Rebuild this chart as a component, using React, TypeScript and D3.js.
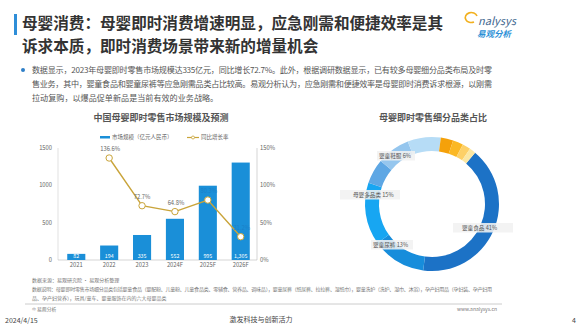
import React from 'react';
import * as d3 from 'd3';

// bar + line chart data
const years = ['2021', '2022', '2023', '2024F', '2025F', '2026F'];
const marketSize = [82, 194, 335, 552, 995, 1305];
const growthRate: (number | null)[] = [null, 136.6, 72.7, 64.8, 80.3, 31.2];
const leftTicks = [0, 500, 1000, 1500];
const rightTicks = [0, 50, 100, 150];

// donut data, clockwise starting from 婴童食品
const categories = ['婴童食品', '婴童尿裤', '母婴多品类', '婴童鞋服', '婴童洗护', '孕产妇用品', '玩具童车', '婴童用品', '营养保健', '其他'];
const shares = [41, 13, 15, 6, 8, 8, 3, 2.5, 2, 1.5];
const sliceColors = ['#1c72c6', '#178ddb', '#17a6f2', '#5ea7e4', '#95c6ee', '#b6dcf6', '#f5a10a', '#fbb824', '#fdd067', '#fbe7a3'];
const labelled = ['婴童食品', '婴童尿裤', '母婴多品类', '婴童鞋服'];

const paragraph = [
  '数据显示，2023年母婴即时零售市场规模达335亿元，同比增长72.7%。此外，根据调研数据显示，已有较多母婴细分品类布局及时零',
  '售业务，其中，婴童食品和婴童尿裤等应急刚需品类占比较高。易观分析认为，应急刚需和便捷效率是母婴即时消费诉求根源，以刚需',
  '拉动复购，以爆品促单新品是当前有效的业务战略。',
];

const FONT = '"Noto Sans CJK SC", "Noto Sans", sans-serif';

// label boxes around the ring (annotation placement)
const labelBoxes: Record<string, { x: number; y: number; w: number; tx: number }> = {
  婴童食品: { x: 453, y: 223, w: 60, tx: 462 },
  婴童尿裤: { x: 371, y: 240, w: 42, tx: 373 },
  母婴多品类: { x: 340, y: 190, w: 60, tx: 353 },
  婴童鞋服: { x: 377, y: 151, w: 38, tx: 379 },
};

const App: React.FC = () => {
  const x = d3.scaleBand<string>().domain(years).range([60, 257]).paddingInner(0.45).paddingOuter(0.22);
  const yL = d3.scaleLinear().domain([0, 1500]).range([260, 148]);
  const yR = d3.scaleLinear().domain([0, 150]).range([260, 148]);
  const cx = (d: string) => (x(d) as number) + x.bandwidth() / 2;

  const linePts = years
    .map((yr, i) => ({ yr, v: growthRate[i] }))
    .filter((d) => d.v !== null) as { yr: string; v: number }[];
  const line = d3
    .line<{ yr: string; v: number }>()
    .x((d) => cx(d.yr))
    .y((d) => yR(d.v));

  const pie = d3
    .pie<number>()
    .sort(null)
    .startAngle((40 * Math.PI) / 180)
    .endAngle((400 * Math.PI) / 180);
  const arcs = pie(shares);
  const arc = d3.arc<d3.PieArcDatum<number>>().innerRadius(53).outerRadius(67);
  const donutC = { x: 432, y: 204 };

  return (
    <svg width={588} height={325} style={{ position: 'absolute', left: 0, top: 0, background: '#fff' }} fontFamily={FONT}>
      {/* header */}
      <rect x={14} y={14} width={3} height={21} fill="#2f8ed8" />
      <text x={22} y={29} fontSize={15.6} fontWeight={700} fill="#333">
        母婴消费：母婴即时消费增速明显，应急刚需和便捷效率是其
      </text>
      <text x={22} y={52} fontSize={15.6} fontWeight={700} fill="#333">
        诉求本质，即时消费场景带来新的增量机会
      </text>
      {/* logo */}
      <path d="M 474 22 A 6 5 0 1 1 477 16" fill="none" stroke="#f2b01e" strokeWidth={1.6} />
      <text x={478} y={25} fontSize={11} fill="#3f6890" fontStyle="italic">nalysys</text>
      <text x={477} y={37} fontSize={8.5} fill="#2b8fd6" fontStyle="italic" fontWeight={700}>易观分析</text>

      {/* paragraph */}
      <circle cx={23} cy={70} r={2} fill="#2f7fc8" />
      {paragraph.map((t, i) => (
        <text
          key={i}
          x={32}
          y={73 + i * 14}
          fontSize={8.1}
          fill="#555"
          textLength={i < 2 ? 460 : undefined}
          lengthAdjust="spacing"
        >
          {t}
        </text>
      ))}

      {/* left chart */}
      <text x={161} y={121} fontSize={9} fontWeight={700} fill="#555" textAnchor="middle">
        中国母婴即时零售市场规模及预测
      </text>
      <rect x={100} y={136} width={10} height={2.5} fill="#1a8fd8" />
      <text x={112} y={139} fontSize={5.5} fill="#666">市场规模（亿元人民币）</text>
      <line x1={187} x2={199} y1={137.5} y2={137.5} stroke="#c9a43a" strokeWidth={1.2} />
      <circle cx={193} cy={137.5} r={1.5} fill="#fff" stroke="#c9a43a" strokeWidth={0.8} />
      <text x={201} y={139} fontSize={5.5} fill="#666">同比增长率</text>

      <line x1={58} x2={58} y1={148} y2={260} stroke="#ccc" strokeWidth={0.6} />
      <line x1={257} x2={257} y1={148} y2={260} stroke="#bbb" strokeWidth={0.6} />
      <line x1={58} x2={257} y1={260} y2={260} stroke="#bbb" strokeWidth={0.6} />
      {leftTicks.map((t) => (
        <text key={t} x={52} y={yL(t) + 2} fontSize={5.8} fill="#666" textAnchor="end">
          {t}
        </text>
      ))}
      {rightTicks.map((t) => (
        <text key={t} x={260} y={yR(t) + 2} fontSize={5.8} fill="#666">
          {t}%
        </text>
      ))}
      {years.map((yr, i) => (
        <g key={yr}>
          <rect x={x(yr)} y={yL(marketSize[i])} width={x.bandwidth()} height={260 - yL(marketSize[i])} fill="#1a8fd8" />
          <text x={cx(yr)} y={257.5} fontSize={5.3} fill="#fff" textAnchor="middle">
            {d3.format(',')(marketSize[i])}
          </text>
          <text x={cx(yr)} y={267} fontSize={5.8} fill="#666" textAnchor="middle">
            {yr}
          </text>
        </g>
      ))}
      <path d={line(linePts) ?? ''} fill="none" stroke="#c9a43a" strokeWidth={1.4} />
      {linePts.map((d) => {
        const onBar = yR(d.v) > yL(marketSize[years.indexOf(d.yr)]);
        return (
          <g key={d.yr}>
            <circle cx={cx(d.yr)} cy={yR(d.v)} r={3.2} fill="#fff" stroke="#c9a43a" strokeWidth={1} />
            <text
              x={cx(d.yr) + (d.yr === '2023' ? 0 : 1)}
              y={yR(d.v) - 7}
              fontSize={5.8}
              fill={onBar ? '#1a7fc8' : '#666'}
              textAnchor="middle"
            >
              {d.v.toFixed(1)}%
            </text>
          </g>
        );
      })}

      {/* donut */}
      <text x={433} y={121} fontSize={9} fontWeight={700} fill="#555" textAnchor="middle">
        母婴即时零售细分品类占比
      </text>
      <g transform={`translate(${donutC.x},${donutC.y})`}>
        {arcs.map((a, i) => (
          <path key={categories[i]} d={arc(a) ?? ''} fill={sliceColors[i]} />
        ))}
      </g>
      {labelled.map((name) => {
        const b = labelBoxes[name];
        const i = categories.indexOf(name);
        return (
          <g key={name}>
            <rect x={b.x} y={b.y} width={b.w} height={9.5} fill="#f1f1f1" opacity={0.88} />
            <text x={b.tx} y={b.y + 7} fontSize={5.6} fill="#555">
              {name} {shares[i]}%
            </text>
          </g>
        );
      })}

      {/* footnotes */}
      <text x={32} y={282} fontSize={5} fill="#777">数据来源：易观研究院 · 易观分析整理</text>
      <text x={32} y={291} fontSize={5} fill="#777" textLength={460} lengthAdjust="spacing">
        数据说明：母婴即时零售市场细分品类包括婴童食品（婴配粉、儿童粉、儿童食品类、零辅食、营养品、调味品），婴童尿裤（纸尿裤、拉拉裤、湿纸巾），婴童洗护（洗护、湿巾、沐浴），孕产妇用品（孕妇装、孕产妇用
      </text>
      <text x={32} y={300} fontSize={5} fill="#777">品、孕产妇营养），玩具/童车、婴童服饰在内的六大母婴品类</text>
      <line x1={25} x2={502} y1={304} y2={304} stroke="#ccc" strokeWidth={1} />
      <text x={32} y={311} fontSize={4.8} fill="#777">© 易观分析</text>
      <text x={497} y={311} fontSize={5} fill="#777" textAnchor="end">www.analysys.cn</text>
      <text x={5} y={323} fontSize={7} fill="#444">2024/4/15</text>
      <text x={261} y={322} fontSize={7} fill="#444" textAnchor="middle">激发科技与创新活力</text>
      <text x={572} y={323} fontSize={7} fill="#444">4</text>
    </svg>
  );
};

export default App;
